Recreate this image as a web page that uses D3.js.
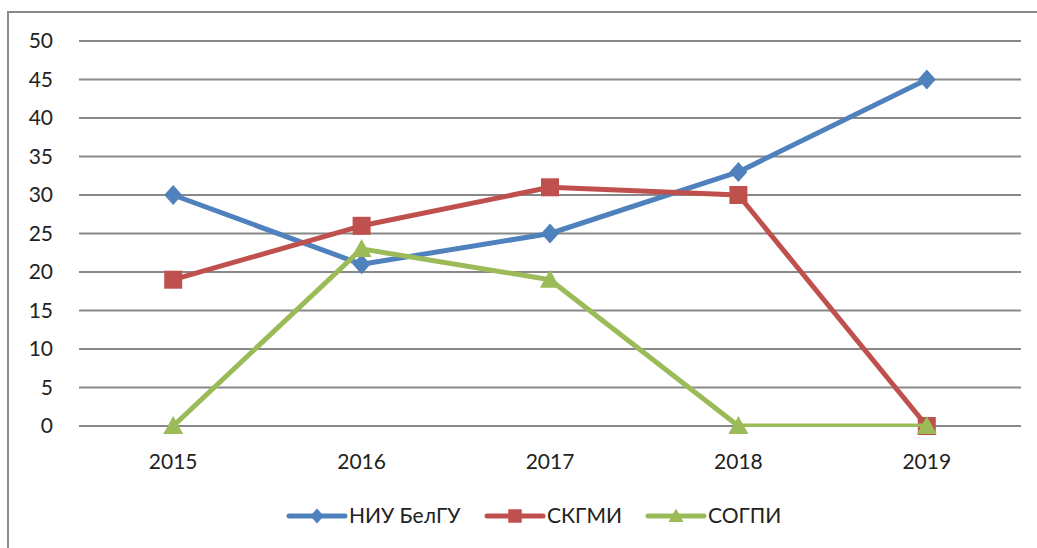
<!DOCTYPE html>
<html>
<head>
<meta charset="utf-8">
<script src="https://cdn.jsdelivr.net/npm/d3@7"></script>
<style>
  body { margin: 0; background: #fff; }
  svg { display: block; }
</style>
</head>
<body>
<svg id="chart" width="1037" height="548"></svg>
<script>
// data
const years = ['2015', '2016', '2017', '2018', '2019'];
const belgu = [30, 21, 25, 33, 45];
const skgmi = [19, 26, 31, 30, 0];
const sogpi = [0, 23, 19, 0, 0];
const seriesNames = ['НИУ БелГУ', 'СКГМИ', 'СОГПИ'];
const yTicks = [0, 5, 10, 15, 20, 25, 30, 35, 40, 45, 50];

const colors = ['#4F81BD', '#C0504D', '#9BBB59'];
const markers = ['diamond', 'square', 'triangle'];
const seriesVals = [belgu, skgmi, sogpi];

const svg = d3.select('#chart');
const font = 'Lato, "Open Sans", sans-serif';

// outer frame (runs off the right/bottom edge like the original)
svg.append('rect')
  .attr('x', 8).attr('y', 12)
  .attr('width', 1100).attr('height', 600)
  .attr('fill', 'none')
  .attr('stroke', '#8a8a8a')
  .attr('stroke-width', 2);

const plot = { left: 79, right: 1021, top: 41, bottom: 426 };

const x = d3.scaleBand().domain(years).range([plot.left, plot.right]);
const xc = (d) => x(d) + x.bandwidth() / 2;
const y = d3.scaleLinear().domain([0, 50]).range([plot.bottom, plot.top]);

// gridlines
svg.append('g')
  .selectAll('line')
  .data(yTicks)
  .enter()
  .append('line')
  .attr('x1', plot.left).attr('x2', plot.right)
  .attr('y1', (d) => y(d)).attr('y2', (d) => y(d))
  .attr('stroke', '#888')
  .attr('stroke-width', 2);

// y labels
svg.append('g')
  .selectAll('text')
  .data(yTicks)
  .enter()
  .append('text')
  .attr('x', 53)
  .attr('y', (d) => y(d))
  .attr('dy', '0.35em')
  .attr('text-anchor', 'end')
  .attr('font-family', font)
  .attr('font-size', '21px')
  .attr('fill', '#222')
  .text((d) => d);

// x labels
svg.append('g')
  .selectAll('text')
  .data(years)
  .enter()
  .append('text')
  .attr('x', (d) => xc(d))
  .attr('y', 462)
  .attr('dy', '0.35em')
  .attr('text-anchor', 'middle')
  .attr('font-family', font)
  .attr('font-size', '21px')
  .attr('fill', '#222')
  .text((d) => d);

// lines get clipped at the bottom of the plot area, markers do not
svg.append('clipPath').attr('id', 'plotclip')
  .append('rect')
  .attr('x', 0).attr('y', 0)
  .attr('width', 1037).attr('height', plot.bottom + 1);

const markerPath = (type) => {
  if (type === 'diamond') return 'M0,-10L9,0L0,10L-9,0Z';
  if (type === 'square') return 'M-9,-9H9V9H-9Z';
  return 'M0,-10L10,8H-10Z';
};

const line = d3.line()
  .x((d, i) => xc(years[i]))
  .y((d) => y(d));

seriesVals.forEach((vals, s) => {
  const g = svg.append('g');
  g.append('path')
    .datum(vals)
    .attr('clip-path', 'url(#plotclip)')
    .attr('d', line)
    .attr('fill', 'none')
    .attr('stroke', colors[s])
    .attr('stroke-width', 5)
    .attr('stroke-linejoin', 'round')
    .attr('stroke-linecap', 'round');
  g.selectAll('path.mk')
    .data(vals)
    .enter()
    .append('path')
    .attr('class', 'mk')
    .attr('transform', (d, i) => `translate(${xc(years[i])},${y(d)})`)
    .attr('d', markerPath(markers[s]))
    .attr('fill', colors[s]);
});

// legend
const legendX = [289, 487, 648];
const legendY = 516;
const legend = svg.append('g');
seriesNames.forEach((name, s) => {
  const lx = legendX[s];
  legend.append('line')
    .attr('x1', lx).attr('x2', lx + 56)
    .attr('y1', legendY).attr('y2', legendY)
    .attr('stroke', colors[s])
    .attr('stroke-width', 5)
    .attr('stroke-linecap', 'round');
  legend.append('path')
    .attr('transform', `translate(${lx + 28},${legendY}) scale(0.75)`)
    .attr('d', markerPath(markers[s]))
    .attr('fill', colors[s]);
  legend.append('text')
    .attr('x', lx + 60)
    .attr('y', legendY)
    .attr('dy', '0.35em')
    .attr('font-family', font)
    .attr('font-size', '21px')
    .attr('fill', '#222')
    .text(name);
});
</script>
</body>
</html>
